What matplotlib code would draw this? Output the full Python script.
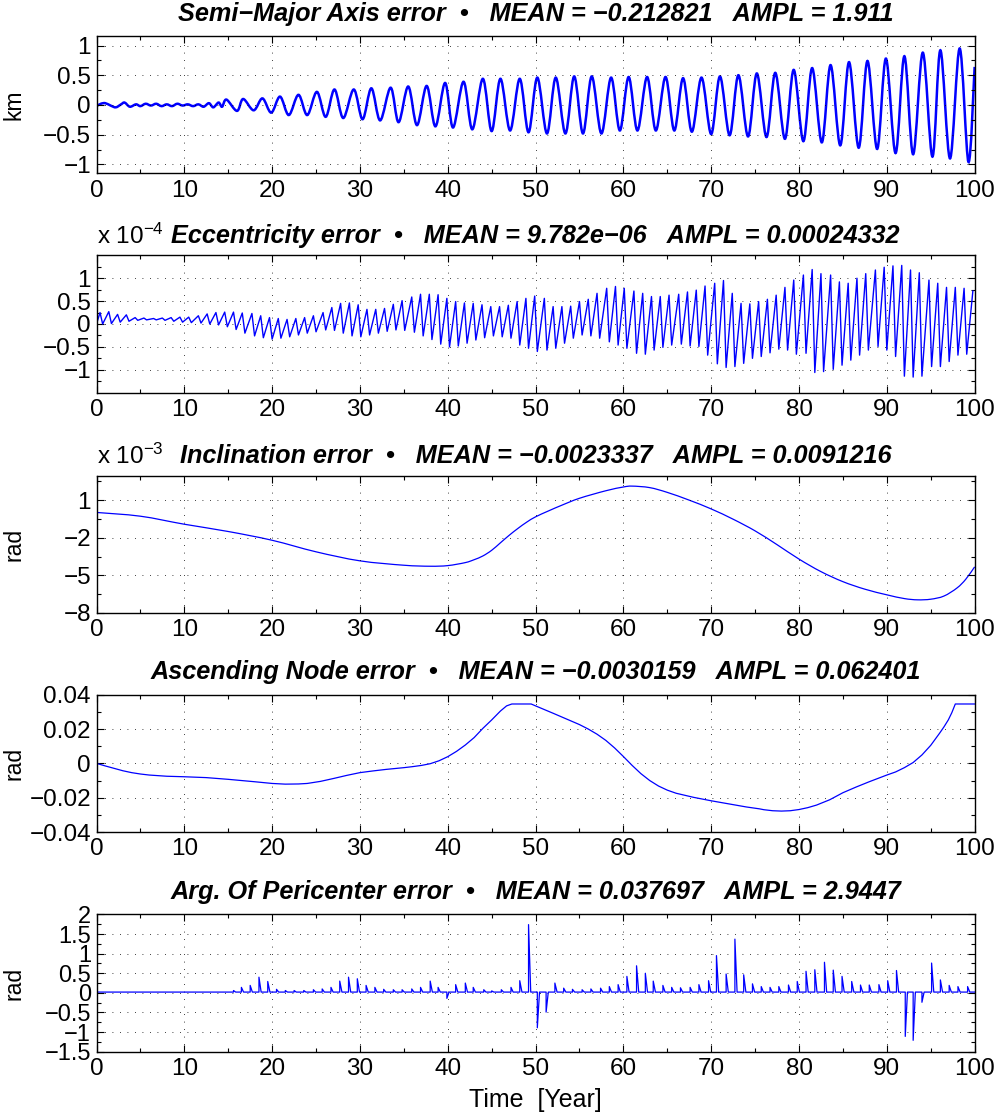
import numpy as np
import matplotlib
matplotlib.use('Agg')
import matplotlib.pyplot as plt
from matplotlib.path import Path
from matplotlib.patches import PathPatch
from matplotlib.ticker import MultipleLocator, FixedLocator, FuncFormatter

plt.rcParams['font.family'] = ['Liberation Sans', 'DejaVu Sans']
plt.rcParams['mathtext.default'] = 'regular'

MINUS = '\u2212'

# semi-major axis error [km], turning points of the oscillation
sma_t = [0.0, 0.5, 1.0, 1.6, 2.2, 2.8, 3.2, 3.8, 4.5, 5.0, 5.6, 6.2, 6.8, 7.4, 8.0, 8.6, 9.2, 9.8,
         10.4, 11.0, 11.6, 12.2, 12.8, 13.3, 13.9, 14.3,
         14.8, 16.0, 16.7, 17.9, 18.9, 19.9, 20.9, 21.9, 23.0, 24.0, 25.1, 26.1, 27.1, 28.1, 29.3,
         30.3, 31.3, 32.3, 33.5, 34.4, 35.5, 36.5, 37.6, 38.6, 39.7, 40.6, 41.8, 42.8, 44.0, 45.0,
         46.0, 47.1, 48.2, 49.2, 50.2, 51.3, 52.3, 53.4, 54.4, 55.4, 56.4, 57.5, 58.6, 59.6, 60.6,
         61.6, 62.7, 63.7, 64.8, 65.8, 66.8, 67.8, 68.9, 70.0, 71.0, 72.1, 73.1, 74.2, 75.2, 76.3,
         77.3, 78.4, 79.4, 80.5, 81.5, 82.6, 83.6, 84.7, 85.7, 86.8, 87.8, 88.9, 89.9, 91.0, 92.0,
         93.0, 94.1, 95.2, 96.1, 97.2, 98.3, 99.3, 100.0]
sma_km = [-0.02, 0.02, 0.03, -0.01, -0.04, 0.01, 0.04, -0.03, 0.01, -0.02, 0.02, -0.01, 0.02, -0.02,
          0.01, -0.02, 0.02, -0.01, 0.01, -0.02, 0.01, -0.03, 0.03, -0.04, 0.04, -0.03,
          0.09, -0.10, 0.10, -0.09, 0.11, -0.13, 0.14, -0.17, 0.17, -0.17, 0.22, -0.20, 0.26, -0.22,
          0.26, -0.24, 0.28, -0.26, 0.29, -0.29, 0.31, -0.34, 0.32, -0.36, 0.37, -0.38, 0.39, -0.41,
          0.44, -0.44, 0.44, -0.43, 0.44, -0.46, 0.46, -0.48, 0.46, -0.48, 0.48, -0.48, 0.48, -0.48,
          0.46, -0.43, 0.47, -0.43, 0.47, -0.43, 0.47, -0.43, 0.45, -0.45, 0.46, -0.49, 0.48, -0.51,
          0.50, -0.53, 0.53, -0.54, 0.54, -0.57, 0.59, -0.61, 0.62, -0.63, 0.67, -0.68, 0.72, -0.72,
          0.74, -0.74, 0.78, -0.81, 0.82, -0.83, 0.88, -0.87, 0.92, -0.90, 0.95, -0.96, 0.64]

# eccentricity error [1e-4], yearly maxima and the minimum before each one
ecc_peak_t = [0.4, 1.4, 2.4, 3.4, 4.4, 5.4, 6.5, 7.5, 8.5, 9.5, 10.5, 11.6, 12.6, 13.6, 14.6, 15.6,
              16.6, 17.7, 18.7, 19.7, 20.7, 21.7, 22.7, 23.7, 24.7, 25.8, 26.8, 27.8, 28.8, 29.8,
              30.8, 31.8, 32.8, 33.8, 34.8, 35.9, 36.9, 37.9, 38.9, 39.9, 40.9, 41.9, 42.9, 43.9,
              44.9, 45.9, 46.9, 47.9, 48.9, 49.9, 51.0, 52.0, 53.0, 54.0, 55.0, 56.0, 57.0, 58.1,
              59.1, 60.1, 61.2, 62.2, 63.2, 64.2, 65.2, 66.3, 67.3, 68.3, 69.3, 70.4, 71.4, 72.4,
              73.4, 74.4, 75.4, 76.4, 77.4, 78.4, 79.4, 80.5, 81.5, 82.5, 83.6, 84.6, 85.6, 86.6,
              87.6, 88.7, 89.7, 90.7, 91.7, 92.7, 93.7, 94.8, 95.8, 96.8, 97.8, 98.8, 99.8]
ecc_peak = [0.25, 0.27, 0.21, 0.20, 0.14, 0.13, 0.12, 0.13, 0.14, 0.15, 0.15, 0.18, 0.22, 0.25,
            0.26, 0.26, 0.24, 0.23, 0.18, 0.14, 0.12, 0.10, 0.12, 0.14, 0.18, 0.25, 0.36, 0.45,
            0.46, 0.42, 0.32, 0.32, 0.34, 0.43, 0.51, 0.59, 0.65, 0.65, 0.64, 0.56, 0.49, 0.46,
            0.45, 0.42, 0.38, 0.38, 0.41, 0.49, 0.56, 0.61, 0.56, 0.38, 0.38, 0.39, 0.49, 0.54,
            0.67, 0.78, 0.82, 0.78, 0.72, 0.67, 0.60, 0.60, 0.63, 0.65, 0.70, 0.74, 0.83, 0.89,
            0.95, 0.67, 0.45, 0.44, 0.49, 0.54, 0.63, 0.80, 0.96, 1.07, 1.19, 1.10, 1.07, 0.92,
            0.89, 1.00, 1.10, 1.18, 1.24, 1.27, 1.28, 1.18, 1.12, 0.96, 0.89, 0.80, 0.80, 0.78,
            0.72]
ecc_trough_t = [0.0, 0.7, 1.7, 2.7, 3.7, 4.7, 5.7, 6.8, 7.8, 8.8, 9.8, 10.8, 11.9, 12.9, 13.9, 14.9,
                15.9, 16.9, 18.0, 19.0, 20.0, 21.0, 22.0, 23.0, 24.0, 25.0, 26.1, 27.1, 28.1, 29.1,
                30.1, 31.1, 32.1, 33.1, 34.1, 35.1, 36.2, 37.2, 38.2, 39.2, 40.2, 41.2, 42.2, 43.2,
                44.2, 45.2, 46.2, 47.2, 48.2, 49.2, 50.2, 51.3, 52.3, 53.3, 54.3, 55.3, 56.3, 57.3,
                58.4, 59.4, 60.4, 61.5, 62.5, 63.5, 64.5, 65.5, 66.6, 67.6, 68.6, 69.6, 70.7, 71.7,
                72.7, 73.7, 74.7, 75.7, 76.7, 77.7, 78.7, 79.7, 80.8, 81.8, 82.8, 83.9, 84.9, 85.9,
                86.9, 87.9, 89.0, 90.0, 91.0, 92.0, 93.0, 94.0, 95.1, 96.1, 97.1, 98.1, 99.1]
ecc_trough = [0.0, 0.0, 0.01, 0.04, 0.06, 0.08, 0.09, 0.09, 0.08, 0.06, 0.04, 0.03, 0.02, 0.0,
              -0.02, -0.06, -0.12, -0.20, -0.26, -0.30, -0.33, -0.31, -0.28, -0.24, -0.20, -0.17,
              -0.13, -0.14, -0.20, -0.26, -0.28, -0.24, -0.20, -0.16, -0.13, -0.14, -0.18, -0.26,
              -0.34, -0.44, -0.50, -0.48, -0.42, -0.35, -0.30, -0.26, -0.28, -0.31, -0.46, -0.53,
              -0.60, -0.57, -0.53, -0.42, -0.31, -0.24, -0.26, -0.31, -0.39, -0.46, -0.53, -0.64,
              -0.66, -0.57, -0.51, -0.46, -0.44, -0.48, -0.49, -0.68, -0.87, -0.95, -0.93, -0.86,
              -0.75, -0.71, -0.63, -0.55, -0.57, -0.66, -0.64, -1.06, -1.04, -0.99, -0.90, -0.79,
              -0.68, -0.57, -0.49, -0.57, -0.71, -1.14, -1.16, -1.14, -0.93, -0.93, -0.82, -0.68,
              -0.66]

# inclination error [1e-3 rad]
incl_t = [0, 5, 10, 15, 20, 25, 30, 35, 38, 40, 42, 43, 44, 45, 46, 47, 48, 49, 50, 51.5, 53, 55,
          58, 60, 61, 63, 65, 67.5, 70, 72.5, 75, 77.5, 80, 82.5, 85, 87.5, 90, 92, 93.5, 95, 96.5,
          98, 99, 100]
incl_v = [0.02, -0.28, -0.92, -1.50, -2.20, -3.12, -3.84, -4.19, -4.27, -4.22, -3.98, -3.75, -3.45,
          -3.00, -2.40, -1.80, -1.25, -0.75, -0.33, 0.15, 0.60, 1.15, 1.75, 2.05, 2.12, 2.00, 1.62,
          1.00, 0.30, -0.52, -1.45, -2.55, -3.70, -4.70, -5.50, -6.10, -6.55, -6.85, -6.95, -6.90,
          -6.65, -6.00, -5.30, -4.32]

# ascending node error [rad]
node_t = [0, 1, 2, 3, 4, 5, 6, 8, 10, 12.5, 15, 18, 20, 21.5, 23, 24, 25.5, 27, 28.5, 30, 31.5, 33,
          35, 36, 37, 38, 39, 40, 41, 42, 43, 44, 45, 46, 46.7, 47.3, 49.5, 50, 52, 54, 55, 56, 57,
          58, 59, 60, 61, 62, 63, 64, 65, 66, 68, 70, 72, 74, 75.5, 76, 77, 78, 79, 80, 81, 82, 83.5,
          85, 86.5, 88, 90, 91, 92, 93, 94, 95, 96, 96.5, 97, 97.4, 97.8, 100]
node_v = [0.0, -0.0015, -0.0029, -0.0043, -0.0054, -0.0062, -0.0068, -0.0075, -0.0078, -0.0083,
          -0.0093, -0.0107, -0.0117, -0.0121, -0.0120, -0.0117, -0.0105, -0.0088, -0.0070, -0.0054,
          -0.0044, -0.0035, -0.0025, -0.0019, -0.0012, -0.0002, 0.0015, 0.0039, 0.0070, 0.0107,
          0.0150, 0.0204, 0.0253, 0.0305, 0.0335, 0.0346, 0.0346, 0.0335, 0.0292, 0.0248, 0.0226,
          0.0200, 0.0170, 0.0134, 0.0090, 0.0040, -0.0012, -0.0060, -0.0100, -0.0132, -0.0156,
          -0.0174, -0.0198, -0.0218, -0.0236, -0.0254, -0.0265, -0.0270, -0.0276, -0.0278, -0.0276,
          -0.0269, -0.0258, -0.0243, -0.0212, -0.0171, -0.0138, -0.0107, -0.0068, -0.0050, -0.0025,
          0.0005, 0.0049, 0.0105, 0.0175, 0.0212, 0.0253, 0.0295, 0.0346, 0.0346]

# argument of pericenter error [rad]: spikes on a flat base
argp_base = 0.02
argp_t = [15.6, 16.5, 17.5, 18.5, 19.5, 20.5, 21.5, 22.5, 23.6, 24.7, 25.7, 26.7, 27.7, 28.7, 29.7,
          30.7, 31.7, 32.7, 33.8, 34.8, 35.9, 36.9, 38.0, 38.9, 39.9, 40.9, 42.0, 42.9, 44.1, 45.0,
          46.1, 47.2, 48.2, 49.2, 50.2, 51.2, 52.2, 53.2, 54.2, 55.3, 56.3, 57.4, 58.4, 59.4, 60.4,
          61.5, 62.5, 63.4, 64.5, 65.5, 66.5, 67.6, 68.6, 69.7, 70.6, 71.7, 72.7, 73.7, 74.7, 75.7,
          76.7, 77.7, 78.8, 79.8, 80.8, 81.8, 82.9, 83.9, 84.9, 86.0, 87.0, 88.0, 89.1, 90.1, 91.1,
          92.1, 93.0, 94.0, 95.1, 96.1, 97.1, 98.1, 99.2]
argp_v = [0.06, 0.14, 0.19, 0.40, 0.29, 0.09, 0.06, 0.06, 0.06, 0.08, 0.10, 0.14, 0.30, 0.40, 0.36,
          0.19, 0.14, 0.09, 0.08, 0.08, 0.10, 0.14, 0.30, 0.14, -0.14, 0.21, 0.25, 0.14, 0.08, 0.05,
          0.08, 0.14, 0.31, 1.74, -0.89, -0.49, 0.25, 0.12, 0.09, 0.08, 0.10, 0.12, 0.16, 0.21, 0.42,
          0.69, 0.50, 0.30, 0.19, 0.14, 0.13, 0.14, 0.21, 0.31, 0.95, 0.48, 1.37, 0.46, 0.23, 0.16,
          0.14, 0.16, 0.20, 0.29, 0.55, 0.59, 0.78, 0.58, 0.42, 0.29, 0.20, 0.20, 0.21, 0.31, 0.57,
          -1.11, -1.21, -0.24, 0.76, 0.33, 0.19, 0.16, 0.16]

titles = [
    'Semi\u2212Major Axis error  \u2022   MEAN = \u22120.212821   AMPL = 1.911',
    'Eccentricity error  \u2022   MEAN = 9.782e\u221206   AMPL = 0.00024332',
    'Inclination error  \u2022   MEAN = \u22120.0023337   AMPL = 0.0091216',
    'Ascending Node error  \u2022   MEAN = \u22120.0030159   AMPL = 0.062401',
    'Arg. Of Pericenter error  \u2022   MEAN = 0.037697   AMPL = 2.9447',
]
ylabels = ['km', '', 'rad', 'rad', 'rad']

TICK_FS = 17.5


def tick_fmt(v, pos):
    v = round(v, 6) + 0.0
    return ('%g' % v).replace('-', MINUS)


def smooth_line(ax, t, v, **kw):
    # Catmull-Rom curve through the points, drawn as cubic Bezier segments
    p = np.column_stack([t, v]).astype(float)
    ext = np.vstack([p[0], p, p[-1]])
    verts = [p[0]]
    codes = [Path.MOVETO]
    for i in range(1, len(ext) - 2):
        c1 = ext[i] + (ext[i + 1] - ext[i - 1]) / 6.0
        c2 = ext[i + 1] - (ext[i + 2] - ext[i]) / 6.0
        verts += [c1, c2, ext[i + 1]]
        codes += [Path.CURVE4] * 3
    ax.add_patch(PathPatch(Path(verts, codes), facecolor='none', **kw))


def style_axes(ax, ylim, yticks, yminor):
    ax.set_xlim(0, 100)
    ax.set_ylim(*ylim)
    ax.xaxis.set_major_locator(MultipleLocator(10))
    ax.xaxis.set_minor_locator(MultipleLocator(5))
    ax.yaxis.set_major_locator(FixedLocator(yticks))
    ax.yaxis.set_minor_locator(FixedLocator(yminor))
    ax.xaxis.set_major_formatter(FuncFormatter(tick_fmt))
    ax.yaxis.set_major_formatter(FuncFormatter(tick_fmt))
    ax.tick_params(which='both', direction='in', top=True, right=True,
                   labelsize=TICK_FS, width=0.8, colors='k')
    ax.tick_params(axis='x', pad=4.5)
    ax.tick_params(axis='y', pad=4)
    ax.tick_params(which='major', length=5)
    ax.tick_params(which='minor', length=3)
    ax.grid(True, which='major', color='k', linestyle=(0, (1, 8)), linewidth=0.6)
    for sp in ax.spines.values():
        sp.set_linewidth(1.0)


fig = plt.figure(figsize=(9.99, 11.18), dpi=100)
left, width, height = 0.0966, 0.879, 0.1228
bottoms = [0.845, 0.6488, 0.4517, 0.2558, 0.0593]
axes = [fig.add_axes([left, b, width, height]) for b in bottoms]

# semi-major axis
ax = axes[0]
smooth_line(ax, sma_t, sma_km, edgecolor='b', lw=1.8)
style_axes(ax, (-1.15, 1.16), [-1, -0.5, 0, 0.5, 1], [-0.75, -0.25, 0.25, 0.75])

# eccentricity: interleave minima and maxima
ecc_t, ecc_v = [], []
for tt, vt, tp, vp in zip(ecc_trough_t, ecc_trough, ecc_peak_t, ecc_peak):
    ecc_t += [tt, tp]
    ecc_v += [vt, vp]
ax = axes[1]
ax.plot(ecc_t, ecc_v, color='b', lw=1.0)
style_axes(ax, (-1.5, 1.5), [-1, -0.5, 0, 0.5, 1], [-1.25, -0.75, -0.25, 0.25, 0.75, 1.25])
ax.text(0, 1.085, r'x 10$^{-4}$', transform=ax.transAxes, fontsize=TICK_FS, va='baseline')

# inclination
ax = axes[2]
smooth_line(ax, incl_t, incl_v, edgecolor='b', lw=0.9)
style_axes(ax, (-8, 2.95), [-8, -5, -2, 1], [-6.5, -3.5, -0.5, 2.5])
ax.text(0, 1.085, r'x 10$^{-3}$', transform=ax.transAxes, fontsize=TICK_FS, va='baseline')

# ascending node
ax = axes[3]
ax.plot(node_t, node_v, color='b', lw=0.9)
style_axes(ax, (-0.04, 0.04), [-0.04, -0.02, 0, 0.02, 0.04], [-0.03, -0.01, 0.01, 0.03])

# argument of pericenter
ap_x, ap_y = [0.0], [argp_base]
for t, v in zip(argp_t, argp_v):
    ap_x += [t, t, t + 0.25]
    ap_y += [argp_base, v, argp_base]
ap_x.append(100.0)
ap_y.append(argp_base)
ax = axes[4]
ax.plot(ap_x, ap_y, color='b', lw=0.9)
style_axes(ax, (-1.5, 2.0), np.arange(-1.5, 2.01, 0.5), np.arange(-1.25, 2.0, 0.5))
ax.tick_params(axis='y', labelsize=17)
ax.set_xlabel('Time  [Year]', fontsize=18)
ax.xaxis.set_label_coords(0.5, -0.262)
ax.xaxis.label.set_va('top')

pads = [11, 9, 9, 11, 11]
for ax, title, lab, pad in zip(axes, titles, ylabels, pads):
    ax.set_title(title, fontsize=18.2, fontweight='bold', fontstyle='italic', pad=pad)
    if lab:
        ax.set_ylabel(lab, fontsize=16.5)
        ax.yaxis.set_label_coords(-0.081, 0.5)

fig.savefig('out.png', dpi=100)
